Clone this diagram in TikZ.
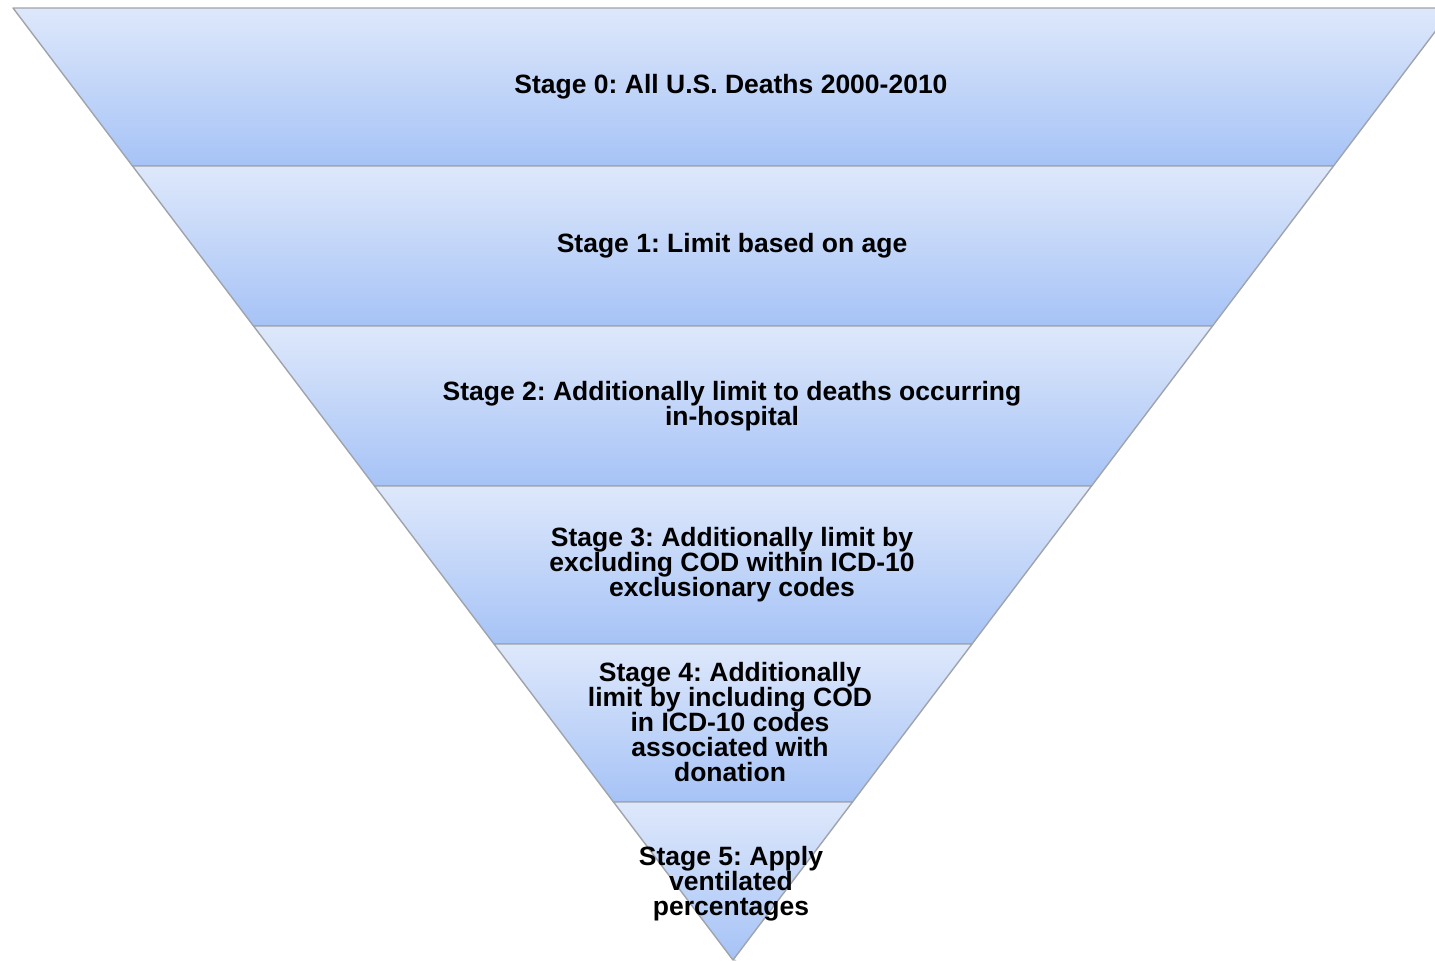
\documentclass[tikz,border=0pt]{standalone}
\usepackage{fontspec}
\setmainfont{Liberation Sans}
\frenchspacing
\definecolor{laytop}{HTML}{DEE8FB}
\definecolor{laybot}{HTML}{A6C3F6}
\definecolor{layedge}{HTML}{A0A4AA}
\tikzset{
  layer/.style={top color=laytop, bottom color=laybot, draw=layedge, line width=1.4pt, line join=round},
  stagetext/.style={align=center, font=\fontsize{26.5}{25}\selectfont\bfseries, text=black, inner sep=0pt}
}
\begin{document}
\begin{tikzpicture}[x=1pt,y=-1pt]
\useasboundingbox (0,0) rectangle (1435,961);
\clip (0,0) rectangle (1435,961);
% geometry: centre 733, apex at y=960, half-width = (960-y)*0.7563
\foreach \ya/\yb in {8/166, 166/326, 326/486, 486/644, 644/802, 802/960}{
  \pgfmathsetmacro{\ha}{(960-\ya)*0.7563}
  \pgfmathsetmacro{\hb}{(960-\yb)*0.7563}
  \draw[gray!35, line width=2pt] ({733-\ha+3},{\ya+2}) -- ({733-\hb+3},{\yb+2});
  \shade[layer] ({733-\ha},\ya) -- ({733+\ha},\ya) -- ({733+\hb},\yb) -- ({733-\hb},\yb) -- cycle;
}
\node[stagetext] (s0) at (731,87) {Stage 0: All U.S. Deaths 2000-2010};
\node[stagetext] (s1) at (732,246) {Stage 1: Limit based on age};
\node[stagetext] (s2) at (732,406) {Stage 2: Additionally limit to deaths occurring\\in-hospital};
\node[stagetext] (s3) at (732,565) {Stage 3: Additionally limit by\\excluding COD within ICD-10\\exclusionary codes};
\node[stagetext] (s4) at (730,722) {Stage 4: Additionally\\limit by including COD\\in ICD-10 codes\\associated with\\donation};
\node[stagetext] (s5) at (731,884) {Stage 5: Apply\\ventilated\\percentages};
\end{tikzpicture}
\end{document}
